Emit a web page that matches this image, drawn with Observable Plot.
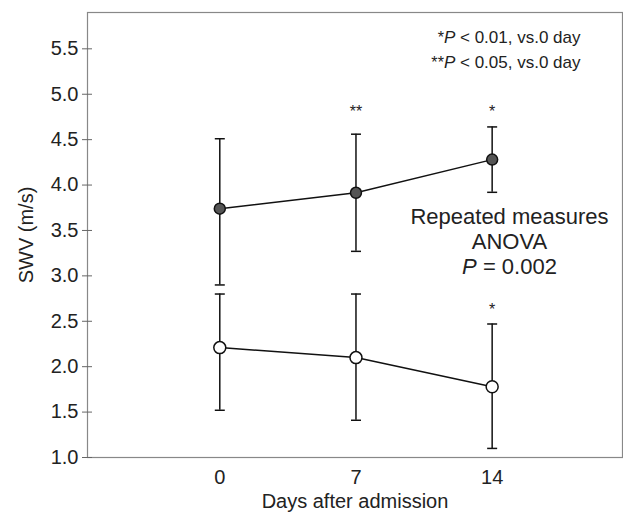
<!DOCTYPE html>
<html>
<head>
<meta charset="utf-8">
<script src="https://cdn.jsdelivr.net/npm/d3@7"></script>
<script src="https://cdn.jsdelivr.net/npm/@observablehq/plot@0.6"></script>
<style>
  html, body { margin: 0; padding: 0; background: white; }
</style>
</head>
<body>
<div id="chart"></div>
<script>
// ---- data ----
const days = [0, 7, 14];
const filledMean = [3.74, 3.915, 4.28];
const filledLow  = [2.90, 3.27, 3.92];
const filledHigh = [4.51, 4.56, 4.64];
const openMean = [2.21, 2.10, 1.78];
const openLow  = [1.52, 1.41, 1.10];
const openHigh = [2.80, 2.80, 2.47];
const yTicks = [1.0, 1.5, 2.0, 2.5, 3.0, 3.5, 4.0, 4.5, 5.0, 5.5];
const xTicks = [0, 7, 14];
const starDays = [7, 14, 14];
const starY = [4.81, 4.81, 2.63];
const starLabels = ["**", "*", "*"];
const noteLines = ["*P < 0.01, vs.0 day", "**P < 0.05, vs.0 day"];
const anovaLines = ["Repeated measures", "ANOVA", "P = 0.002"];

const rows = days.map((d, i) => ({
  day: d, fm: filledMean[i], fl: filledLow[i], fh: filledHigh[i],
  om: openMean[i], ol: openLow[i], oh: openHigh[i]
}));
const stars = starDays.map((d, i) => ({day: d, y: starY[i], label: starLabels[i]}));

// horizontal cap symbol for error bars
const cap = {
  draw(context, size) {
    const w = Math.sqrt(size / Math.PI);
    context.moveTo(-w, 0);
    context.lineTo(w, 0);
  }
};

const plot = Plot.plot({
  width: 623,
  height: 512,
  marginLeft: 87,
  marginRight: 1,
  marginTop: 12,
  marginBottom: 55,
  style: {fontFamily: "'Liberation Sans', Arial, Helvetica, sans-serif", fontSize: "20px", color: "#222", background: "white"},
  x: {domain: [-6.8, 20.7]},
  y: {domain: [1, 5.9]},
  marks: [
    Plot.frame({stroke: "#888", strokeWidth: 1.2}),
    Plot.axisY(yTicks, {tickSize: 10, dx: 5, tickFormat: () => "", label: null, stroke: "#666"}),
    Plot.axisY(yTicks, {tickSize: 0, tickPadding: 9, tickFormat: d3.format(".1f"), label: "SWV (m/s)", labelArrow: false, labelAnchor: "center", labelOffset: 69, fill: "#222", fontSize: 20}),
    Plot.axisX(xTicks, {tickSize: 0, tickPadding: 12, label: "Days after admission", labelArrow: false, labelAnchor: "center", labelOffset: 50, fill: "#222", fontSize: 20}),
    // error bars
    Plot.ruleX(rows, {x: "day", y1: "ol", y2: "oh", stroke: "#111", strokeWidth: 1.5}),
    Plot.ruleX(rows, {x: "day", y1: "fl", y2: "fh", stroke: "#111", strokeWidth: 1.5}),
    Plot.dot(rows, {x: "day", y: "ol", symbol: cap, r: 5, stroke: "#111", strokeWidth: 1.5}),
    Plot.dot(rows, {x: "day", y: "oh", symbol: cap, r: 5, stroke: "#111", strokeWidth: 1.5}),
    Plot.dot(rows, {x: "day", y: "fl", symbol: cap, r: 5, stroke: "#111", strokeWidth: 1.5}),
    Plot.dot(rows, {x: "day", y: "fh", symbol: cap, r: 5, stroke: "#111", strokeWidth: 1.5}),
    // lines
    Plot.line(rows, {x: "day", y: "fm", stroke: "#111", strokeWidth: 1.5}),
    Plot.line(rows, {x: "day", y: "om", stroke: "#111", strokeWidth: 1.5}),
    // markers
    Plot.dot(rows, {x: "day", y: "fm", r: 5.5, fill: "#555", stroke: "#111", strokeWidth: 1.5}),
    Plot.dot(rows, {x: "day", y: "om", r: 6, fill: "white", stroke: "#111", strokeWidth: 1.5}),
    // significance stars
    Plot.text(stars, {x: "day", y: "y", text: "label", fontSize: 16, fill: "#222"}),
    // notes
    Plot.text([noteLines.join("\n")], {frameAnchor: "top-right", textAnchor: "end", lineAnchor: "top", dx: -42, dy: 12, lineHeight: 1.5, fontSize: 17, fill: "#222"}),
    Plot.text([anovaLines.join("\n")], {frameAnchor: "right", textAnchor: "middle", lineAnchor: "middle", dx: -113, dy: 6, lineHeight: 1.12, fontSize: 22, fill: "#222"})
  ]
});

// strip any axis-label arrows
d3.select(plot).selectAll("text, tspan").each(function () {
  if (this.children.length) return;
  const t = this.textContent;
  const c = t.replace(/\s*[→↑←↓]\s*/g, "").trim();
  if (c !== t && /[A-Za-z]/.test(c)) this.textContent = c;
});

// italic P and asterisks
function richify(el) {
  const s = el.textContent;
  const m = s.match(/^(\**)(P)( [<=].*)$/);
  if (!m) return;
  const sel = d3.select(el);
  sel.text(null);
  if (m[1]) sel.append("tspan").attr("font-size", "0.95em").text(m[1]);
  sel.append("tspan").attr("font-style", "italic").text(m[2]);
  sel.append("tspan").text(m[3]);
}
const targets = [];
d3.select(plot).selectAll("text, tspan").each(function () {
  if (this.children.length === 0 && /^\**P [<=]/.test(this.textContent)) targets.push(this);
});
targets.forEach(richify);

document.getElementById("chart").appendChild(plot);
</script>
</body>
</html>
